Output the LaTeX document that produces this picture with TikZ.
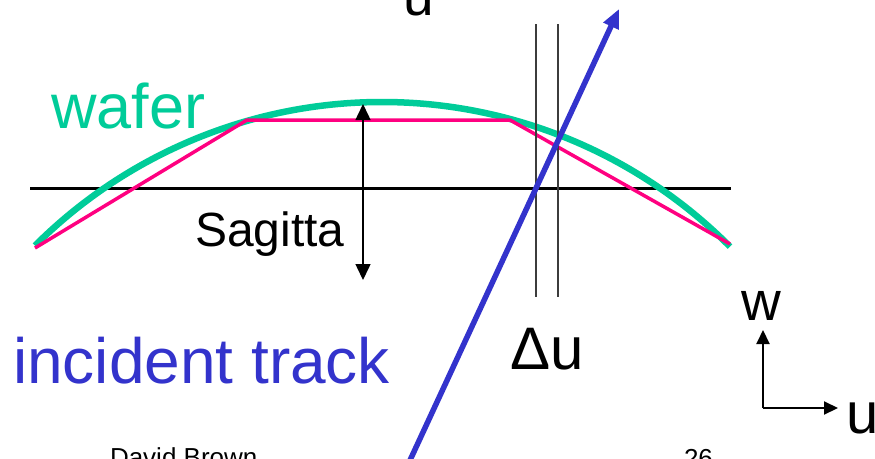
\documentclass[tikz,border=0pt]{standalone}
\usepackage{fontspec}
\setmainfont{Liberation Sans}
\usetikzlibrary{arrows.meta}
\definecolor{wafergreen}{RGB}{0,204,153}
\definecolor{trackblue}{RGB}{51,51,204}
\definecolor{planpink}{RGB}{255,0,128}
\definecolor{stripgray}{RGB}{60,60,60}
\tikzset{
  lbl/.style={anchor=base west, inner sep=0pt, outer sep=0pt},
  sagarrow/.style={line width=1.5pt, {Triangle[length=16pt,width=15pt]}-{Triangle[length=16pt,width=15pt]}},
  axisarrow/.style={line width=2pt, -{Triangle[length=14pt,width=13pt]}},
  trackarrow/.style={line width=5.5pt, trackblue, -{Triangle[length=19pt,width=16pt]}},
  stripline/.style={line width=1.2pt, stripgray},
}
\begin{document}
\begin{tikzpicture}[x=1pt,y=-1pt]
\clip (0,0) rectangle (875,458);
\fill[white] (0,0) rectangle (875,458);
% coordinates
\coordinate (hl) at (30,188);
\coordinate (hr) at (731,188);
\coordinate (p1) at (35,248);
\coordinate (p2) at (247,120);
\coordinate (p3) at (510,120);
\coordinate (p4) at (730,244);
\coordinate (s1t) at (536,24);
\coordinate (s1b) at (536,297);
\coordinate (s2t) at (558,24);
\coordinate (s2b) at (558,297);
\coordinate (sagtop) at (363,104);
\coordinate (sagbot) at (363,280);
\coordinate (trk0) at (405.5,470);
\coordinate (trk1) at (619,9);
\coordinate (ax0) at (763,408);
\coordinate (axw) at (763,330);
\coordinate (axu) at (838,408);
% reference plane
\draw[line width=3pt, black] (hl) -- (hr);
% wafer arc
\draw[line width=6.5pt, wafergreen] plot[domain=35:730, samples=120, smooth]
  (\x, {593 - 10*sqrt(2410.81 - ((\x-382)/10)^2)});
% planar approximation
\draw[line width=3.5pt, planpink, line join=miter] (p1) -- (p2) -- (p3) -- (p4);
% strip lines
\draw[stripline] (s1t) -- (s1b);
\draw[stripline] (s2t) -- (s2b);
% sagitta
\draw[sagarrow] (sagtop) -- (sagbot);
% track
\draw[trackarrow] (trk0) -- (trk1);
% axes
\draw[axisarrow] (ax0) -- (axw);
\draw[axisarrow] (ax0) -- (axu);
% labels
\node[lbl, text=wafergreen, font=\fontsize{63}{70}\selectfont] (tw) at (51,128) {wafer};
\node[lbl, text=trackblue, font=\fontsize{64}{70}\selectfont] (ti) at (13,383) {incident track};
\node[lbl, font=\fontsize{48}{54}\selectfont] (ts) at (195,246) {Sagitta};
\node[lbl, font=\fontsize{60}{66}\selectfont] (td) at (510,369) {Δu};
\node[lbl, font=\fontsize{55}{60}\selectfont] (tww) at (741,320) {w};
\node[lbl, font=\fontsize{58}{64}\selectfont] (tuu) at (846,433) {u};
\node[lbl, font=\fontsize{55}{60}\selectfont] (tut) at (403,15) {u};
\node[lbl, font=\fontsize{26}{30}\selectfont] (tdb) at (110,466) {David Brown};
\node[lbl, font=\fontsize{26}{30}\selectfont] (tnum) at (684,467) {26};
\end{tikzpicture}
\end{document}
